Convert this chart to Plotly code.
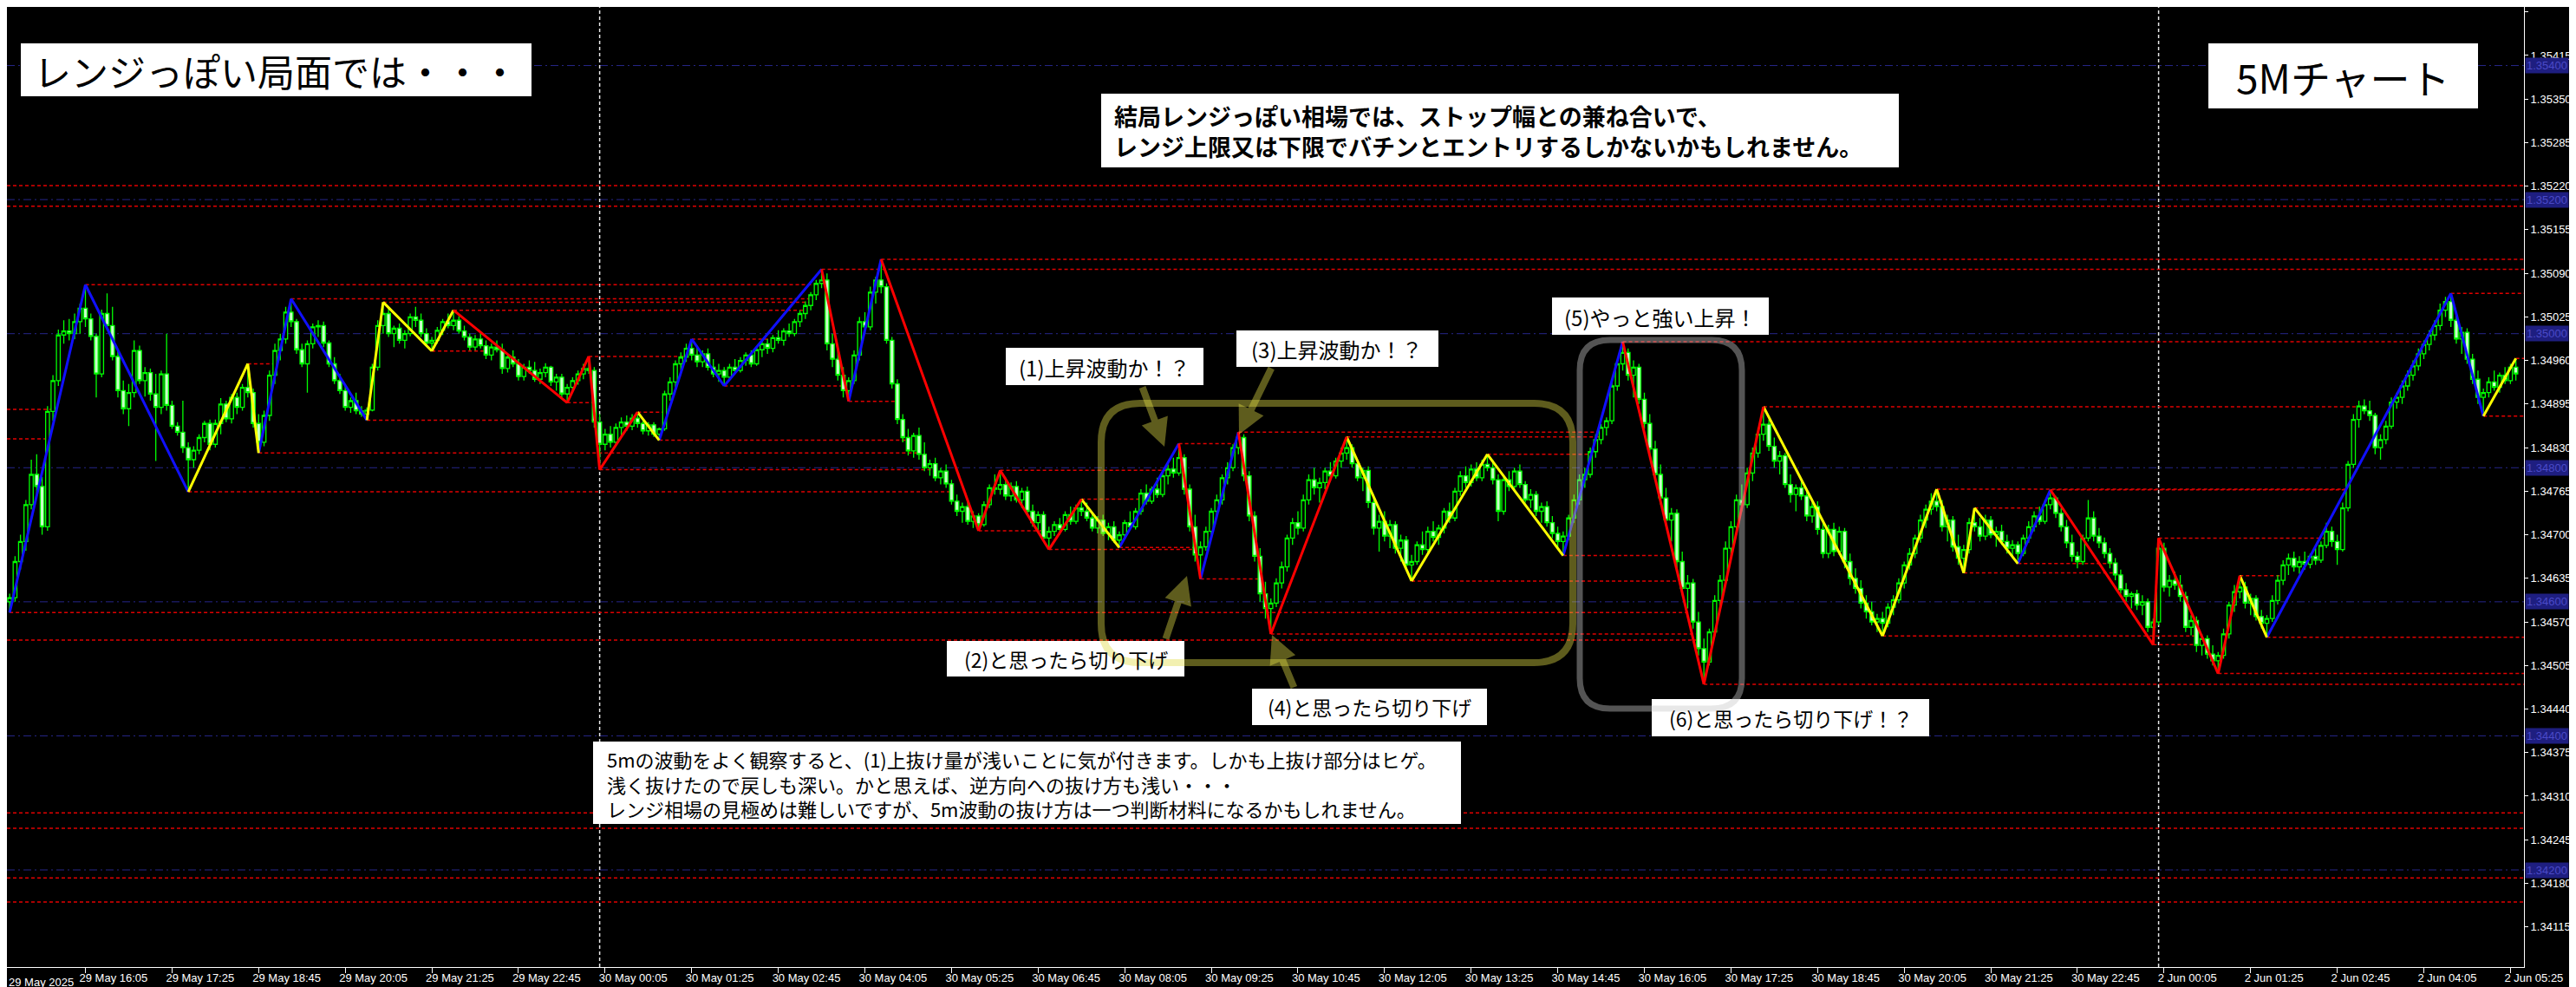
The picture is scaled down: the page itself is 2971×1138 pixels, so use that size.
import plotly.graph_objects as go

# ---------------- DATA ----------------
BASE = 1.34000
POINT = 0.00001

opens = [
    600,606,660,690,745,790,772,712,884,930, 998,1004,1000,1018,1038,1022,996,940,1030,1012,
    966,915,888,912,975,930,942,910,890,940, 893,862,853,830,812,826,845,866,835,866,
    895,873,905,890,920,912,866,838,878,938, 975,992,1032,1018,976,955,985,1010,1012,986,
    955,930,915,890,900,885,880,886,950,1012, 1030,1000,1008,990,1000,1025,1020,1000,986,990,
    1005,1018,1012,1020,1004,995,980,992,982,968, 980,976,948,965,955,936,950,945,932,942,
    950,928,935,910,920,930,940,948,945,868, 835,850,838,860,868,862,874,866,855,864,
    850,858,910,928,955,965,978,968,958,970, 950,940,945,935,950,945,960,968,955,976,
    985,978,994,990,1004,1000,1018,1030,1042,1058, 1075,1080,985,962,938,915,930,968,1018,1010,
    1062,1080,1070,990,925,872,845,825,848,820, 800,806,785,795,776,750,735,742,720,728,
    715,745,770,768,775,758,772,752,765,735, 718,730,695,705,715,708,730,720,740,735,
    725,710,722,702,712,692,700,718,712,735, 762,750,768,760,788,798,792,815,768,712,
    670,682,705,735,752,785,800,830,845,788, 728,668,612,590,598,628,652,695,718,710,
    752,782,770,778,795,788,810,822,830,806, 785,796,748,710,720,698,715,680,692,655,
    660,685,678,705,696,710,735,725,765,788, 778,798,785,805,800,782,735,782,772,795,
    775,752,760,735,742,718,702,690,698,725, 752,782,790,824,842,860,870,922,955,972,
    938,950,902,866,828,790,755,722,732,660, 620,628,570,530,510,555,602,632,680,712,
    752,745,792,822,850,865,832,810,818,775, 760,770,758,728,742,708,672,708,675,705,
    660,635,620,598,585,570,575,568,592,603, 628,655,672,695,722,738,750,742,712,722,
    682,665,678,718,712,698,722,700,705,690, 680,685,672,695,712,728,720,745,755,732,
    712,688,668,660,695,725,698,688,672,658, 640,618,608,612,595,600,562,570,680,622,
    632,625,608,562,572,535,545,522,512,520, 552,595,615,622,598,605,578,568,575,602,
    632,655,665,652,660,656,668,662,684,705, 690,678,740,805,872,892,885,878,830,842,
    862,898,905,922,938,952,970,984,998,1012, 1035,1048,1020,992,1002,962,932,905,912,928,
    920,938,930,950,
]
highs = [
    612,668,700,752,812,820,786,892,938,1006, 1020,1022,1030,1045,1073,1030,1000,1036,1060,1040,
    975,930,925,990,982,950,948,940,945,1000, 900,868,900,838,832,850,870,872,872,904,
    900,910,912,925,955,918,880,885,945,985, 1000,1040,1052,1022,985,990,1015,1020,1018,990,
    965,940,922,905,912,892,890,955,1020,1047, 1040,1012,1015,1005,1030,1040,1030,1008,995,1010,
    1022,1030,1035,1026,1012,1000,998,1000,990,985, 990,985,970,975,962,955,960,958,948,956,
    952,940,940,925,935,945,955,966,950,880, 858,862,866,875,878,880,883,872,868,868,
    860,915,935,960,972,985,992,982,975,978, 962,955,950,955,962,965,972,975,980,990,
    992,998,1005,1008,1015,1022,1035,1048,1062,1080, 1096,1090,1000,975,950,935,975,1025,1032,1070,
    1085,1111,1075,995,932,880,858,852,860,838, 812,815,800,805,782,760,748,750,735,732,
    750,775,790,796,785,778,780,770,772,745, 735,735,712,720,725,735,742,745,753,748,
    732,728,730,718,720,705,722,735,740,768, 775,772,785,792,805,815,836,820,775,730,
    690,712,740,760,790,808,835,853,850,795, 735,680,630,605,635,660,700,725,735,760,
    790,800,785,800,808,815,830,846,835,812, 800,802,758,730,735,722,720,700,698,670,
    690,705,712,720,715,740,748,770,795,802, 805,808,812,820,812,790,790,795,800,805,
    780,768,765,748,750,728,712,705,730,760, 790,800,830,850,865,875,930,960,988,978,
    960,955,912,880,840,805,770,740,738,675, 640,634,585,545,560,610,640,690,720,760,
    775,800,830,860,891,872,845,825,822,790, 775,782,765,748,750,720,715,718,712,710,
    672,650,632,610,600,582,585,598,610,635, 660,680,700,730,745,762,768,752,730,728,
    700,685,725,740,725,730,728,712,715,700, 692,690,700,720,735,742,752,767,758,740,
    722,700,675,700,752,735,710,696,680,665, 648,628,615,618,610,605,575,695,688,640,
    645,640,615,580,578,552,550,535,525,560, 600,625,639,630,612,610,588,580,610,640,
    662,672,675,668,675,672,680,690,718,712, 700,748,810,880,900,902,900,882,850,870,
    905,912,930,945,960,978,990,1005,1020,1045, 1055,1060,1030,1010,1008,970,945,918,935,945,
    942,950,955,963,
]
lows = [
    584,600,648,676,738,762,700,706,870,922, 985,990,992,1000,1010,990,905,935,1005,960,
    905,880,862,905,925,906,900,810,880,885, 858,848,822,764,800,820,838,826,830,850,
    868,866,880,885,905,860,822,832,870,925, 960,985,1010,970,950,912,978,995,980,950,
    925,910,885,882,880,876,871,884,945,1000, 995,980,985,978,996,1010,995,982,974,985,
    998,1008,1005,1000,990,975,975,978,962,960, 972,940,942,950,930,930,940,928,925,935,
    922,915,905,897,915,924,932,940,860,797, 826,830,832,848,855,856,860,850,848,846,
    841,855,900,920,945,958,960,950,950,945, 935,928,922,930,940,942,952,950,952,965,
    970,972,985,982,995,996,1010,1022,1035,1050, 1068,975,950,930,905,899,925,960,1000,1005,
    1045,1060,985,918,865,838,818,815,812,795, 788,780,775,770,745,728,718,715,710,706,
    712,740,760,760,752,750,748,740,730,712, 705,690,678,698,700,705,715,716,728,720,
    705,702,698,692,688,681,695,710,708,730, 745,746,755,756,775,785,788,760,705,660,
    634,676,700,725,745,775,795,820,780,720, 660,600,575,552,592,620,645,685,700,705,
    745,760,748,768,780,784,800,812,800,780, 765,740,700,675,690,680,672,660,648,631,
    655,670,672,690,685,702,718,720,758,770, 772,780,780,795,775,720,730,765,768,770,
    748,740,728,718,712,695,680,669,692,718, 745,770,785,815,835,848,865,915,945,930,
    905,895,858,820,782,745,715,690,650,610, 590,560,520,477,505,548,590,625,668,700,
    735,740,780,815,840,825,800,790,770,748, 735,752,720,718,700,665,665,668,670,650,
    625,612,590,575,565,555,549,562,580,598, 620,648,665,688,710,730,735,705,690,675,
    655,643,672,705,690,692,695,682,685,672, 665,657,668,688,705,715,716,738,725,705,
    680,660,650,655,690,690,680,665,650,632, 612,600,590,588,580,555,536,565,615,608,
    618,600,555,550,525,520,515,505,493,515, 545,585,605,590,580,572,560,547,570,596,
    625,640,645,642,648,650,655,658,680,682, 655,675,735,800,860,880,870,820,812,835,
    858,888,895,915,930,945,962,975,990,1005, 1025,1010,985,970,955,925,895,877,905,915,
    912,925,925,930,
]
closes = [
    606,660,690,745,790,772,712,884,930,998, 1004,1000,1018,1038,1022,996,940,1030,1012,966,
    915,888,912,975,930,942,910,890,940,893, 862,853,830,812,826,845,866,835,866,895,
    873,905,890,920,912,866,838,878,938,975, 992,1032,1018,976,955,985,1010,1012,986,955,
    930,915,890,900,885,880,886,950,1012,1030, 1000,1008,990,1000,1025,1020,1000,986,990,1005,
    1018,1012,1020,1004,995,980,992,982,968,980, 976,948,965,955,936,950,945,932,942,950,
    928,935,910,920,930,940,948,945,868,835, 850,838,860,868,862,874,866,855,864,850,
    858,910,928,955,965,978,968,958,970,950, 940,945,935,950,945,960,968,955,976,985,
    978,994,990,1004,1000,1018,1030,1042,1058,1075, 1080,985,962,938,915,930,968,1018,1010,1062,
    1080,1070,990,925,872,845,825,848,820,800, 806,785,795,776,750,735,742,720,728,715,
    745,770,768,775,758,772,752,765,735,718, 730,695,705,715,708,730,720,740,735,725,
    710,722,702,712,692,700,718,712,735,762, 750,768,760,788,798,792,815,768,712,670,
    682,705,735,752,785,800,830,845,788,728, 668,612,590,598,628,652,695,718,710,752,
    782,770,778,795,788,810,822,830,806,785, 796,748,710,720,698,715,680,692,655,660,
    685,678,705,696,710,735,725,765,788,778, 798,785,805,800,782,735,782,772,795,775,
    752,760,735,742,718,702,690,698,725,752, 782,790,824,842,860,870,922,955,972,938,
    950,902,866,828,790,755,722,732,660,620, 628,570,530,510,555,602,632,680,712,752,
    745,792,822,850,865,832,810,818,775,760, 770,758,728,742,708,672,708,675,705,660,
    635,620,598,585,570,575,568,592,603,628, 655,672,695,722,738,750,742,712,722,682,
    665,678,718,712,698,722,700,705,690,680, 685,672,695,712,728,720,745,755,732,712,
    688,668,660,695,725,698,688,672,658,640, 618,608,612,595,600,562,570,680,622,632,
    625,608,562,572,535,545,522,512,520,552, 595,615,622,598,605,578,568,575,602,632,
    655,665,652,660,656,668,662,684,705,690, 678,740,805,872,892,885,878,830,842,862,
    898,905,922,938,952,970,984,998,1012,1035, 1048,1020,992,1002,962,932,905,912,928,920,
    938,930,950,940,
]

# ZigZag vertices (bar index, points above BASE) and colour of each leg
zz_bars = [0,14,33,44,46,52,66,69,78,82,103,107,109,116,120,126,132,150,155,161,179,183,192,198,205,
           216,220,227,233,247,259,273,287,298,313,324,346,356,361,363,371,377,396,397,408,412,417,451,457,463]
zz_pts = [584,1073,764,955,822,1052,871,1047,974,1035,897,966,797,883,841,992,922,1096,899,1111,706,796,678,753,681,
          836,634,853,552,846,631,820,669,988,477,891,549,768,643,740,657,767,536,695,493,639,547,1060,877,963]
zz_legs = "BBYYBBYYYRRRRYBBBRBRRRRYBRBRRYYYBRRYYYYYBRRRRYBBY"

# support / resistance levels left over from before the visible window
pre_levels = [1221, 1190, 887, 843, 543, 285, 262, 188, 152]

round_levels = ["1.35400", "1.35200", "1.35000", "1.34800", "1.34600", "1.34400", "1.34200"]

y_tick_labels = ["1.35480","1.35415","1.35350","1.35285","1.35220","1.35155","1.35090","1.35025",
                 "1.34960","1.34895","1.34830","1.34765","1.34700","1.34635","1.34570","1.34505",
                 "1.34440","1.34375","1.34310","1.34245","1.34180","1.34115"]

x_tick_labels = ["29 May 16:05","29 May 17:25","29 May 18:45","29 May 20:05","29 May 21:25","29 May 22:45",
                 "30 May 00:05","30 May 01:25","30 May 02:45","30 May 04:05","30 May 05:25","30 May 06:45",
                 "30 May 08:05","30 May 09:25","30 May 10:45","30 May 12:05","30 May 13:25","30 May 14:45",
                 "30 May 16:05","30 May 17:25","30 May 18:45","30 May 20:05","30 May 21:25","30 May 22:45",
                 "2 Jun 00:05","2 Jun 01:25","2 Jun 02:45","2 Jun 04:05","2 Jun 05:25"]
x_tick_bars = [14 + 16 * k for k in range(len(x_tick_labels))]
first_label = "29 May 2025"
day_separator_bars = [109, 397]

# ---------------- FIGURE ----------------
N = len(closes)
XR = [-0.5, 464.5]
YR = [1.340551, 1.354874]
PW, PH = 2903, 1107  # plot area in px


def pr(v):
    return BASE + v * POINT


def px(x):
    return x / PW


def py(y):
    return 1 - y / PH


fig = go.Figure()

fig.add_trace(go.Candlestick(
    x=list(range(N)), open=[pr(v) for v in opens], high=[pr(v) for v in highs],
    low=[pr(v) for v in lows], close=[pr(v) for v in closes],
    increasing=dict(line=dict(color="#00ff00", width=1.3), fillcolor="#000000"),
    decreasing=dict(line=dict(color="#00ff00", width=1.3), fillcolor="#c8ffc8"),
    whiskerwidth=0, hoverinfo="skip", showlegend=False))

leg_colors = {"B": "#1010ff", "Y": "#ffff00", "R": "#ff0000"}
for key, col in leg_colors.items():
    xs, ys = [], []
    for i, c in enumerate(zz_legs):
        if c == key:
            xs += [zz_bars[i], zz_bars[i + 1], None]
            ys += [pr(zz_pts[i]), pr(zz_pts[i + 1]), None]
    fig.add_trace(go.Scatter(x=xs, y=ys, mode="lines", line=dict(color=col, width=3),
                             hoverinfo="skip", showlegend=False))

shapes = []
# round number lines
for s in round_levels:
    shapes.append(dict(type="line", xref="paper", x0=0, x1=1, yref="y", y0=float(s), y1=float(s),
                       line=dict(color="#26268a", width=1, dash="9px,4px,2px,4px"), layer="below"))


def level_end(start, level, is_high):
    for j in range(int(start) + 1, N):
        if (is_high and closes[j] > level) or ((not is_high) and closes[j] < level):
            return j
    return XR[1]


red = dict(color="#e00000", width=1.5, dash="4px,3px")
for lv in pre_levels:
    is_high = lv > opens[0]
    shapes.append(dict(type="line", xref="x", yref="y", x0=XR[0], x1=level_end(-1, lv, is_high),
                       y0=pr(lv), y1=pr(lv), line=red, layer="below"))
for i, (b, p) in enumerate(zip(zz_bars, zz_pts)):
    ref = zz_pts[i - 1] if i > 0 else zz_pts[i + 1]
    is_high = p > ref
    shapes.append(dict(type="line", xref="x", yref="y", x0=b, x1=level_end(b, p, is_high),
                       y0=pr(p), y1=pr(p), line=red, layer="below"))

for b in day_separator_bars:
    shapes.append(dict(type="line", xref="x", yref="paper", x0=b, x1=b, y0=0, y1=1,
                       line=dict(color="#e8e8e8", width=1.5, dash="4px,3px"), layer="below"))

# white label boxes (pixel geometry)
boxes = [
    (16, 42, 605, 103), (2539, 42, 2850, 117), (1262, 100, 2182, 185),
    (1152, 393, 1380, 436), (1418, 373, 1651, 415), (1782, 335, 2032, 378),
    (1084, 731, 1358, 772), (1436, 786, 1707, 828), (1897, 798, 2217, 841),
    (676, 847, 1677, 942),
]
for (x0, y0, x1, y1) in boxes:
    shapes.append(dict(type="rect", xref="paper", yref="paper", x0=px(x0), x1=px(x1), y0=py(y1), y1=py(y0),
                       fillcolor="white", line=dict(width=0), layer="above"))


def rrect(x0, y0, x1, y1, r):
    pts = [("M", x0 + r, y0), ("L", x1 - r, y0), ("Q", x1, y0, x1, y0 + r), ("L", x1, y1 - r),
           ("Q", x1, y1, x1 - r, y1), ("L", x0 + r, y1), ("Q", x0, y1, x0, y1 - r), ("L", x0, y0 + r),
           ("Q", x0, y0, x0 + r, y0)]
    out = []
    for p in pts:
        cmd, vals = p[0], p[1:]
        coords = []
        for k in range(0, len(vals), 2):
            coords.append(f"{px(vals[k]):.5f},{py(vals[k + 1]):.5f}")
        out.append(cmd + " " + " ".join(coords))
    return " ".join(out) + " Z"


OLIVE = "rgba(225,220,70,0.42)"
shapes.append(dict(type="path", xref="paper", yref="paper", path=rrect(1262, 457, 1806, 756, 45),
                   line=dict(color=OLIVE, width=8), layer="above"))
shapes.append(dict(type="path", xref="paper", yref="paper", path=rrect(1814, 384, 2001, 809, 35),
                   line=dict(color="rgba(200,200,200,0.42)", width=7), layer="above"))

ann = []
JP = "Noto Sans CJK JP"
AX = "Liberation Sans, Arial, sans-serif"


def label(text, x, y, size, xanchor="center", weight="normal"):
    ann.append(dict(text=text, xref="paper", yref="paper", x=px(x), y=py(y), xanchor=xanchor,
                    yanchor="middle", showarrow=False, align="left",
                    font=dict(family=JP, size=size, color="black", weight=weight)))


label("レンジっぽい局面では・・・", 310, 73, 43)
label("5Mチャート", 2694, 80, 46)
label("結局レンジっぽい相場では、ストップ幅との兼ね合いで、<br>レンジ上限又は下限でバチンとエントリするしかないかもしれません。",
      1275, 143, 27, xanchor="left", weight="bold")
label("(1)上昇波動か！？", 1266, 415, 24)
label("(3)上昇波動か！？", 1534, 394, 24)
label("(5)やっと強い上昇！", 1907, 357, 24)
label("(2)と思ったら切り下げ", 1221, 752, 23)
label("(4)と思ったら切り下げ", 1571, 807, 23)
label("(6)と思ったら切り下げ！？", 2057, 820, 23)
label("5mの波動をよく観察すると、(1)上抜け量が浅いことに気が付きます。しかも上抜け部分はヒゲ。<br>"
      "浅く抜けたので戻しも深い。かと思えば、逆方向への抜け方も浅い・・・<br>"
      "レンジ相場の見極めは難しいですが、5m波動の抜け方は一つ判断材料になるかもしれません。",
      690, 895, 22, xanchor="left")

# olive arrows: (tail, tip) in px
arrows = [((1309, 437), (1335, 507)), ((1459, 415), (1421, 493)),
          ((1336, 730), (1361, 656)), ((1485, 786), (1459, 724))]
for (tx, ty), (hx, hy) in arrows:
    ann.append(dict(text="", xref="paper", yref="paper", x=px(hx), y=py(hy), ax=tx - hx, ay=ty - hy,
                    showarrow=True, arrowhead=2, arrowsize=0.8, arrowwidth=8, arrowcolor=OLIVE))

# round-level price tags on the axis
for s in round_levels:
    ann.append(dict(text=s, xref="paper", yref="y", x=1, y=float(s), xanchor="left", xshift=1,
                    showarrow=False, bgcolor="#1e1e80", borderpad=1,
                    font=dict(family=AX, size=13, color="#4a4ac8")))

# first time label (at the left edge)
ann.append(dict(text=first_label, xref="paper", yref="paper", x=0, y=0, xanchor="left", yanchor="top",
                yshift=-8, showarrow=False, font=dict(family=AX, size=13, color="white")))

fig.update_layout(
    width=2971, height=1138,
    margin=dict(l=0, r=68, t=0, b=31),
    paper_bgcolor="black", plot_bgcolor="black",
    showlegend=False, hovermode=False,
    boxgap=0.3, boxgroupgap=0,
    shapes=shapes, annotations=ann,
    xaxis=dict(range=XR, tickvals=x_tick_bars, ticktext=x_tick_labels, ticklabelposition="outside right",
               ticklabelshift=-8,
               ticks="outside", ticklen=6, tickcolor="white", showline=True, linecolor="white", linewidth=1,
               showgrid=False, zeroline=False, automargin=False, rangeslider=dict(visible=False),
               tickfont=dict(family=AX, size=13, color="white")),
    yaxis=dict(range=YR, side="right", tickvals=[float(s) for s in y_tick_labels], ticktext=y_tick_labels,
               ticks="outside", ticklen=4, tickcolor="white", showline=True, linecolor="white", linewidth=1,
               showgrid=False, zeroline=False, automargin=False,
               tickfont=dict(family=AX, size=13, color="white")),
)

fig.write_html("out.html")
